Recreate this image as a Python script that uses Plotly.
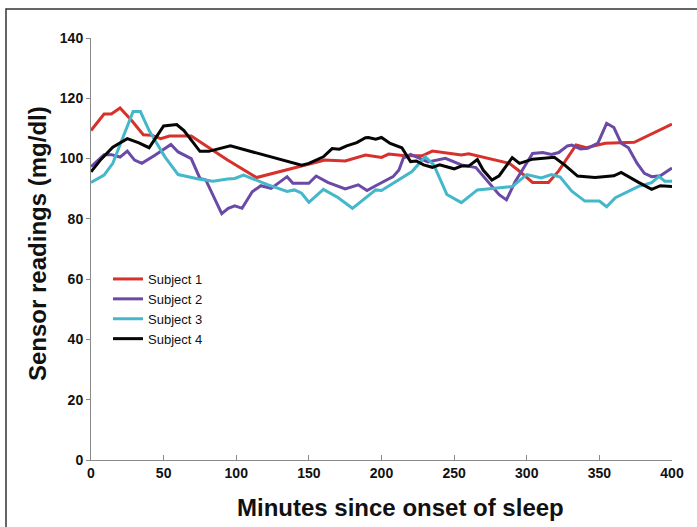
import plotly.graph_objects as go

# Subject 1 (red)
s1_t = [0, 9, 14, 20, 28, 36, 42, 48, 54, 69, 94, 114, 161, 175, 189, 200, 205, 216, 228, 235,
        255, 260, 288, 294, 304, 315, 322, 334, 341, 354, 374, 400]
s1_v = [109.3, 114.8, 114.8, 116.8, 112.6, 107.9, 107.7, 106.6, 107.5, 107.5, 99.5, 93.7, 99.5,
        99.2, 101.2, 100.4, 101.5, 100.9, 100.9, 102.5, 101.2, 101.6, 98.4, 96.2, 92.1, 92.1,
        95.9, 104.5, 103.6, 105.1, 105.4, 111.4]

# Subject 2 (purple)
s2_t = [0, 9, 14, 20, 25, 30, 35, 44, 55, 60, 69, 75, 79, 90, 94.5, 99, 104, 111, 117, 124,
        135, 139, 150, 155, 163, 175, 184, 190, 196, 208, 212, 215, 220, 226, 232, 244, 255,
        265, 273, 281, 286, 292, 299, 304, 311, 317, 322, 328, 331, 337, 342, 349, 355, 360,
        365, 370, 376, 381, 386, 392, 400]
s2_v = [97.3, 101.3, 101.3, 100.5, 102.5, 99.5, 98.4, 101.1, 104.7, 102.2, 100.0, 93.4, 92.9,
        81.7, 83.5, 84.3, 83.5, 89.0, 91.0, 90.1, 94.0, 91.8, 91.8, 94.2, 92.1, 89.9, 91.3,
        89.4, 91.0, 94.0, 96.2, 100.1, 101.4, 100.1, 98.9, 100.1, 97.9, 97.0, 92.4, 88.0, 86.3,
        92.3, 97.8, 101.7, 102.0, 101.4, 102.0, 104.2, 104.5, 103.2, 103.4, 105.1, 111.7, 110.3,
        105.1, 103.6, 98.4, 95.1, 94.0, 94.3, 96.9]

# Subject 3 (cyan)
s3_t = [0, 9, 15, 21, 29, 34, 40, 51, 60, 74, 84, 94, 99, 105, 113, 122, 135, 140, 145, 150,
        160, 170, 180, 188, 196, 200, 221, 230, 236, 245, 255, 266, 278, 290, 300, 310, 317,
        323, 331, 340, 350, 355, 361, 368, 377, 386, 391, 395, 400]
s3_v = [92.1, 94.5, 98.4, 106.0, 115.6, 115.6, 109.3, 100.5, 94.7, 93.2, 92.5, 93.2, 93.4,
        94.5, 92.9, 91.3, 89.1, 89.6, 88.5, 85.5, 89.8, 87.1, 83.5, 86.5, 89.6, 89.4, 95.7,
        100.6, 97.9, 88.1, 85.4, 89.6, 90.1, 90.7, 94.7, 93.6, 94.7, 93.9, 89.2, 85.9, 85.9,
        84.0, 87.0, 88.7, 90.8, 92.0, 94.1, 92.5, 92.5]

# Subject 4 (black)
s4_t = [0, 7, 15, 25, 33, 40, 50, 59, 64, 75, 81, 96, 145, 150, 160, 166, 171, 176, 183, 189,
        191, 196, 200, 206, 214, 220, 224, 229, 235, 240, 250, 255, 260, 266, 270, 276, 281,
        290, 295, 304, 319, 326, 335, 347, 360, 365, 377, 386, 392, 400]
s4_v = [95.6, 99.8, 103.8, 106.6, 105.2, 103.6, 110.8, 111.3, 109.3, 102.4, 102.4, 104.2,
        97.8, 98.4, 100.6, 103.3, 103.1, 104.2, 105.3, 106.9, 107.0, 106.4, 107.0, 105.0,
        103.6, 99.0, 99.2, 97.9, 97.1, 97.9, 96.6, 97.5, 97.5, 99.7, 96.2, 92.9, 94.3, 100.3,
        98.4, 99.8, 100.4, 97.9, 94.2, 93.7, 94.3, 95.4, 92.1, 89.8, 91.0, 90.7]

names = ["Subject 1", "Subject 2", "Subject 3", "Subject 4"]
colors = ["#d8312b", "#6a4aa6", "#44b7cb", "#050505"]
series = [(s1_t, s1_v), (s2_t, s2_v), (s3_t, s3_v), (s4_t, s4_v)]

x_ticks = [0, 50, 100, 150, 200, 250, 300, 350, 400]
y_ticks = [0, 20, 40, 60, 80, 100, 120, 140]

fig = go.Figure()
for (t, v), n, c in zip(series, names, colors):
    fig.add_trace(go.Scatter(x=t, y=v, mode="lines", name=n,
                             line=dict(color=c, width=3)))

W, H = 697, 527
L, R, T, B = 91, 25, 38, 67
pw, ph = W - L - R, H - T - B

def px(xp):
    return (xp - L) / pw

def py(yp):
    return (H - B - yp) / ph

FAM = "Liberation Sans, Arial, sans-serif"
tickfont = dict(family=FAM, size=14, color="#111111", weight="bold")

fig.update_layout(
    width=W, height=H,
    margin=dict(l=L, r=R, t=T, b=B),
    paper_bgcolor="white", plot_bgcolor="white",
    showlegend=True,
    legend=dict(x=px(108), y=py(264), xanchor="left", yanchor="top",
                bgcolor="rgba(0,0,0,0)", tracegroupgap=0,
                font=dict(family=FAM, size=13, color="#111111")),
    xaxis=dict(range=[0, 400], tickvals=x_ticks, ticktext=[str(v) for v in x_ticks],
               showgrid=False, zeroline=False, showline=True, linecolor="#8a8a8a",
               linewidth=1, ticks="inside", ticklen=5, tickcolor="#8a8a8a",
               tickfont=tickfont),
    yaxis=dict(range=[0, 140], tickvals=y_ticks, ticktext=[str(v) for v in y_ticks],
               showgrid=False, zeroline=False, showline=True, linecolor="#8a8a8a",
               linewidth=1, ticks="outside", ticklen=4, tickcolor="#8a8a8a",
               tickfont=tickfont),
    annotations=[
        dict(text="Minutes since onset of sleep", xref="paper", yref="paper",
             x=px(400), y=py(507), xanchor="center", yanchor="middle", showarrow=False,
             font=dict(family=FAM, size=24, color="#111111", weight="bold")),
        dict(text="Sensor readings (mg/dl)", xref="paper", yref="paper",
             x=px(37), y=py(244), xanchor="center", yanchor="middle", showarrow=False,
             textangle=-90,
             font=dict(family=FAM, size=24, color="#111111", weight="bold")),
    ],
    shapes=[
        dict(type="rect", xref="paper", yref="paper", x0=px(6), x1=px(720), y0=py(560),
             y1=py(9), line=dict(color="#333333", width=1.5), fillcolor="rgba(0,0,0,0)",
             layer="below"),
    ],
)

fig.write_html("out.html")
